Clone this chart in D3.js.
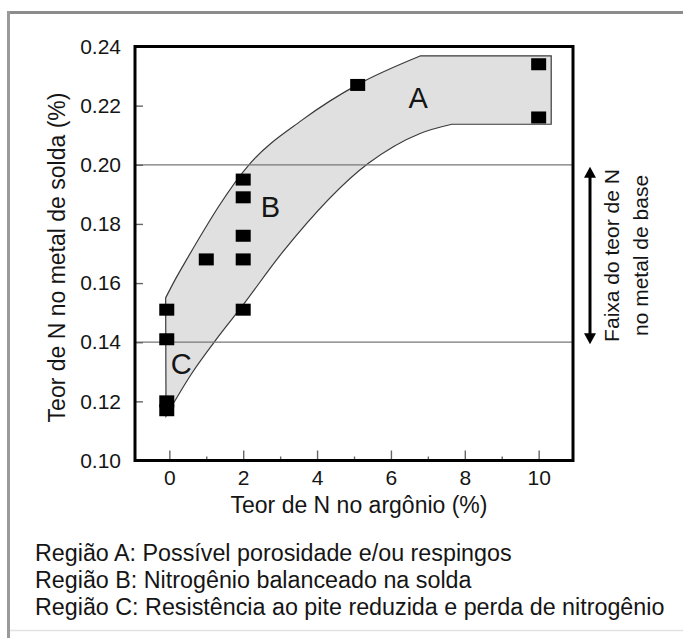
<!DOCTYPE html>
<html>
<head>
<meta charset="utf-8">
<script src="https://cdnjs.cloudflare.com/ajax/libs/d3/7.8.5/d3.min.js"></script>
<style>
  body { margin: 0; background: #fff; }
  text { font-family: "Liberation Sans", Arial, sans-serif; fill: #151515; }
</style>
</head>
<body>
<div id="chart"></div>
<script>
// data
var xTicks = [0, 2, 4, 6, 8, 10];
var xMinorTicks = [1, 3, 5, 7, 9];
var yTicks = [0.10, 0.12, 0.14, 0.16, 0.18, 0.20, 0.22, 0.24];

// measured points (N in argon %, N in weld metal %)
var pointsX = [10, 10, 5.1, 2, 2, 2, 2, 1, 2, -0.07, -0.07, -0.07, -0.07];
var pointsY = [0.234, 0.216, 0.227, 0.195, 0.189, 0.176, 0.168, 0.168, 0.151, 0.151, 0.141, 0.120, 0.117];

// band limits (last point of each = end of the flat part)
var upperX = [-0.1, 0.15, 0.47, 2.19, 3.59, 5.11, 6.79, 10.34];
var upperY = [0.155, 0.161, 0.168, 0.2005, 0.2151, 0.2272, 0.2368, 0.2368];
var lowerX = [-0.09, 0.61, 1.28, 1.96, 3.05, 5.39, 6.79, 7.65, 10.34];
var lowerY = [0.115, 0.1295, 0.1411, 0.152, 0.1702, 0.2005, 0.2106, 0.2137, 0.2137];

// base metal N range
var baseRange = [0.14, 0.20];

var regionNames = ["A", "B", "C"];
var regionX = [6.74, 2.74, 0.32];
var regionY = [0.2191, 0.1824, 0.1293];

var xTitle = "Teor de N no argônio (%)";
var yTitle = "Teor de N no metal de solda (%)";
var rangeLabel = ["Faixa do teor de N", "no metal de base"];
var legendLines = [
  "Região A: Possível porosidade e/ou respingos",
  "Região B: Nitrogênio balanceado na solda",
  "Região C: Resistência ao pite reduzida e perda de nitrogênio"
];

// Chart setup
var svgWidth = 683;
var svgHeight = 638;
var margin = { top: 46.5, right: 110, bottom: 177.5, left: 135 };
var width = svgWidth - margin.left - margin.right;
var height = svgHeight - margin.top - margin.bottom;

var svg = d3.select("#chart").append("svg")
  .attr("width", svgWidth)
  .attr("height", svgHeight);

// outer picture border
svg.append("line").attr("x1", 8).attr("x2", svgWidth).attr("y1", 12.5).attr("y2", 12.5)
  .attr("stroke", "#8c8c8c").attr("stroke-width", 3);
svg.append("line").attr("x1", 8.5).attr("x2", 8.5).attr("y1", 11).attr("y2", svgHeight)
  .attr("stroke", "#9a9a9a").attr("stroke-width", 3);
svg.append("line").attr("x1", 10).attr("x2", svgWidth).attr("y1", 630.5).attr("y2", 630.5)
  .attr("stroke", "#e2e2e2").attr("stroke-width", 1.5);

var chartGroup = svg.append("g")
  .attr("transform", `translate(${margin.left}, ${margin.top})`);

var xScale = d3.scaleLinear().domain([-0.93, 10.93]).range([0, width]);
var yScale = d3.scaleLinear().domain([0.10, 0.24]).range([height, 0]);

// band: curved part + straight flat part on both limits
var upper = upperX.map((x, i) => [x, upperY[i]]);
var lower = lowerX.map((x, i) => [x, lowerY[i]]);
var curve = d3.line()
  .x(d => xScale(d[0]))
  .y(d => yScale(d[1]))
  .curve(d3.curveMonotoneX);
var upEnd = upper[upper.length - 1];
var lowEnd = lower[lower.length - 1];
var bandPath = curve(upper.slice(0, -1))
  + `L${xScale(upEnd[0])},${yScale(upEnd[1])}`
  + `L${xScale(lowEnd[0])},${yScale(lowEnd[1])}`
  + curve(lower.slice(0, -1).reverse()).replace("M", "L")
  + "Z";

chartGroup.append("path")
  .attr("d", bandPath)
  .attr("fill", "#e0e0e0")
  .attr("stroke", "#3a3a3a")
  .attr("stroke-width", 1.2);

// horizontal lines for base metal range
chartGroup.selectAll(".range-line").data(baseRange).enter()
  .append("line")
  .attr("x1", 0).attr("x2", width)
  .attr("y1", d => yScale(d)).attr("y2", d => yScale(d))
  .attr("stroke", "#777").attr("stroke-width", 1.3);

// axes with ticks pointing inside
var xAxis = d3.axisBottom(xScale).tickValues(xTicks).tickSize(-10).tickPadding(10);
var xMinor = d3.axisBottom(xScale).tickValues(xMinorTicks).tickSize(-4).tickFormat("");
var yAxis = d3.axisLeft(yScale).tickValues(yTicks).tickSize(-8).tickPadding(14)
  .tickFormat(d3.format(".2f"));

var gx = chartGroup.append("g").attr("transform", `translate(0, ${height})`).call(xAxis);
var gxm = chartGroup.append("g").attr("transform", `translate(0, ${height})`).call(xMinor);
var gy = chartGroup.append("g").call(yAxis);

[gx, gxm, gy].forEach(function(g) {
  g.select(".domain").remove();
  g.selectAll("line").attr("stroke", "#666").attr("stroke-width", 1.4);
  g.selectAll("text")
    .attr("font-family", "Liberation Sans, Arial, sans-serif")
    .attr("font-size", "21px")
    .attr("fill", "#151515");
});

// points
chartGroup.selectAll(".pt").data(pointsX).enter()
  .append("rect")
  .attr("x", d => xScale(d) - 7.5)
  .attr("y", (d, i) => yScale(pointsY[i]) - 6)
  .attr("width", 15)
  .attr("height", 12)
  .attr("fill", "#000");

// plot frame
chartGroup.append("rect")
  .attr("x", 0).attr("y", 0)
  .attr("width", width).attr("height", height)
  .attr("fill", "none")
  .attr("stroke", "#000")
  .attr("stroke-width", 3);

// region letters
chartGroup.selectAll(".region").data(regionNames).enter()
  .append("text")
  .attr("x", (d, i) => xScale(regionX[i]))
  .attr("y", (d, i) => yScale(regionY[i]))
  .attr("text-anchor", "middle")
  .attr("font-size", "29px")
  .text(d => d);

// axis titles
chartGroup.append("text")
  .attr("x", xScale(5) + 5)
  .attr("y", height + 52)
  .attr("text-anchor", "middle")
  .attr("font-size", "23px")
  .text(xTitle);

chartGroup.append("text")
  .attr("transform", `translate(${65 - margin.left}, ${257.5 - margin.top}) rotate(-90)`)
  .attr("text-anchor", "middle")
  .attr("font-size", "23px")
  .text(yTitle);

// base metal range arrow
var arrowX = width + 17;
var yTop = yScale(baseRange[1]) + 2;
var yBot = yScale(baseRange[0]) + 2;
chartGroup.append("line")
  .attr("x1", arrowX).attr("x2", arrowX)
  .attr("y1", yTop + 8).attr("y2", yBot - 8)
  .attr("stroke", "#000").attr("stroke-width", 3);
chartGroup.append("path")
  .attr("d", `M${arrowX},${yTop} L${arrowX - 6},${yTop + 11} L${arrowX + 6},${yTop + 11}Z`)
  .attr("fill", "#000");
chartGroup.append("path")
  .attr("d", `M${arrowX},${yBot} L${arrowX - 6},${yBot - 11} L${arrowX + 6},${yBot - 11}Z`)
  .attr("fill", "#000");

var midY = (yTop + yBot) / 2;
rangeLabel.forEach(function(t, i) {
  chartGroup.append("text")
    .attr("transform", `translate(${width + 46 + i * 29}, ${midY}) rotate(-90)`)
    .attr("text-anchor", "middle")
    .attr("font-size", "21px")
    .text(t);
});

// region legend
svg.selectAll(".legend").data(legendLines).enter()
  .append("text")
  .attr("x", 35)
  .attr("y", (d, i) => 561 + i * 27)
  .attr("font-size", "23.3px")
  .text(d => d);
</script>
</body>
</html>
